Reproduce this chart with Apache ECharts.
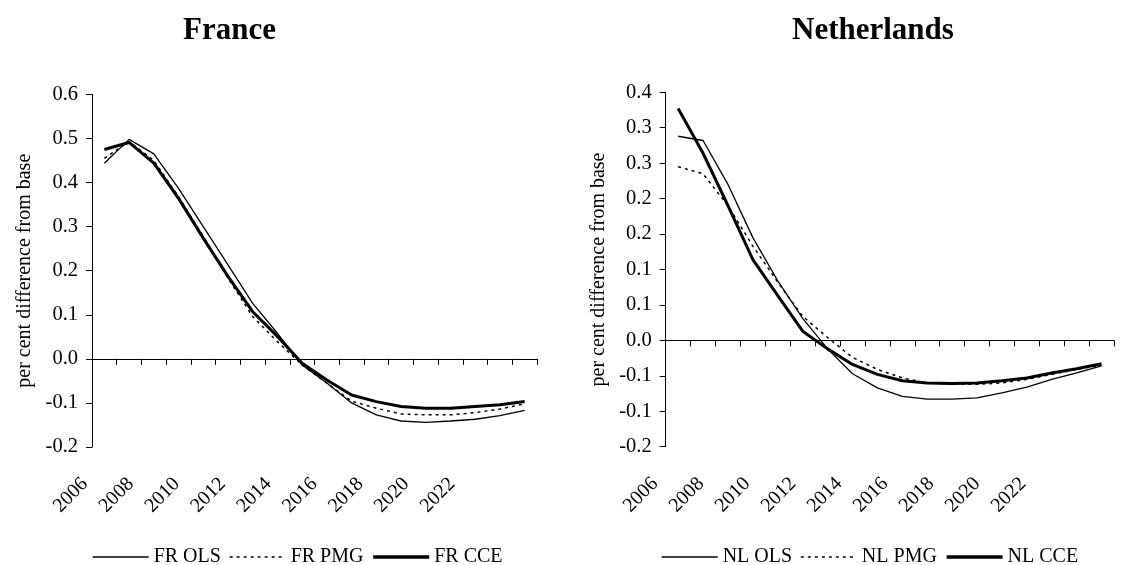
<!DOCTYPE html>
<html>
<head>
<meta charset="utf-8">
<script src="https://cdn.jsdelivr.net/npm/echarts@6/dist/echarts.min.js"></script>
<style>
  html, body { margin: 0; padding: 0; background: #fff; }
  #chart { width: 1127px; height: 565px; }
</style>
</head>
<body>
<div id="chart"></div>
<script>
var years = ['2006', '2007', '2008', '2009', '2010', '2011', '2012', '2013', '2014',
    '2015', '2016', '2017', '2018', '2019', '2020', '2021', '2022', '2023'];

var frOls = [0.444, 0.498, 0.465, 0.387, 0.300, 0.213, 0.126, 0.058, -0.014,
    -0.055, -0.100, -0.127, -0.141, -0.144, -0.141, -0.137, -0.129, -0.117];
var frPmg = [0.455, 0.493, 0.450, 0.368, 0.278, 0.183, 0.096, 0.039, -0.014,
    -0.055, -0.096, -0.112, -0.125, -0.127, -0.127, -0.122, -0.114, -0.102];
var frCce = [0.475, 0.491, 0.444, 0.364, 0.274, 0.187, 0.107, 0.051, -0.010,
    -0.048, -0.082, -0.097, -0.108, -0.112, -0.112, -0.108, -0.104, -0.097];

var nlOls = [0.288, 0.282, 0.220, 0.145, 0.084, 0.031, -0.012, -0.047, -0.067,
    -0.079, -0.083, -0.083, -0.081, -0.074, -0.066, -0.055, -0.046, -0.036];
var nlPmg = [0.245, 0.235, 0.190, 0.133, 0.082, 0.034, 0.004, -0.024, -0.041,
    -0.053, -0.060, -0.062, -0.062, -0.060, -0.055, -0.048, -0.041, -0.035];
var nlCce = [0.327, 0.264, 0.190, 0.114, 0.063, 0.013, -0.012, -0.034, -0.048,
    -0.057, -0.060, -0.061, -0.060, -0.057, -0.053, -0.046, -0.040, -0.033];

var font = 'Liberation Serif';

// excel shows the 0.05 steps rounded to one decimal
function roundLabel(v) {
    var r = Math.sign(v) * Math.round(Math.abs(v) * 10 + 1e-9) / 10;
    if (r === 0) r = 0;
    return r.toFixed(1);
}

function mainX(grid) {
    return {
        type: 'category', gridIndex: grid, data: years, boundaryGap: true,
        axisLine: { onZero: true, lineStyle: { color: '#000', width: 1 } },
        axisTick: { show: true, interval: 0, length: 6, lineStyle: { color: '#000' } },
        axisLabel: { show: false },
        splitLine: { show: false }
    };
}

function labelX(grid) {
    return {
        type: 'category', gridIndex: grid, data: years, boundaryGap: true,
        axisLine: { show: false },
        axisTick: { show: false },
        axisLabel: {
            interval: 1, rotate: 45, margin: 34,
            color: '#000', fontFamily: font, fontSize: 20
        }
    };
}

function mainY(grid, min, max, step) {
    return {
        type: 'value', gridIndex: grid, min: min, max: max, interval: step,
        name: 'per cent difference from base', nameLocation: 'middle', nameGap: 57,
        nameTextStyle: { color: '#000', fontFamily: font, fontSize: 20 },
        axisLine: { show: true, lineStyle: { color: '#000', width: 1 } },
        axisTick: { show: true, length: 6, lineStyle: { color: '#000' } },
        axisLabel: { color: '#000', fontFamily: font, fontSize: 20.5, margin: 14, formatter: roundLabel },
        splitLine: { show: false }
    };
}

function hiddenY(grid) {
    return { type: 'value', gridIndex: grid, show: false, min: 0, max: 1 };
}

function line(name, data, axis, width, dash) {
    return {
        name: name, type: 'line', xAxisIndex: axis, yAxisIndex: axis,
        data: data, symbol: 'none', smooth: false, color: '#000',
        lineStyle: { color: '#000', width: width, type: dash || 'solid' }
    };
}

function legendItem(name, width, dash) {
    return { name: name, lineStyle: { color: '#000', width: width, type: dash || 'solid' } };
}

function legend(names, left) {
    return {
        data: [
            legendItem(names[0], 1.3),
            legendItem(names[1], 1.5, [3, 4]),
            legendItem(names[2], 3.5)
        ],
        left: left, top: 547,
        itemWidth: 56, itemHeight: 14, itemGap: 8, padding: 0,
        itemStyle: { opacity: 0 },
        textStyle: { fontFamily: font, fontSize: 20, color: '#000' }
    };
}

var chart = echarts.init(document.getElementById('chart'));
var option = {
    backgroundColor: '#fff',
    animation: false,
    title: [
        { text: 'France', left: 183, top: 15, padding: 0,
          textStyle: { fontFamily: font, fontSize: 31, fontWeight: 'bold', color: '#000' } },
        { text: 'Netherlands', left: 792, top: 15, padding: 0,
          textStyle: { fontFamily: font, fontSize: 31, fontWeight: 'bold', color: '#000' } }
    ],
    legend: [
        legend(['FR OLS', 'FR PMG', 'FR CCE'], 92),
        legend(['NL OLS', 'NL PMG', 'NL CCE'], 661)
    ],
    grid: [
        { left: 92, right: 590, top: 94.4, bottom: 118 },
        { left: 73.5, width: 412.9, top: 94.4, bottom: 118 },
        { left: 665.7, right: 13, top: 92.3, bottom: 118.3 },
        { left: 643.5, width: 414, top: 92.3, bottom: 118.3 }
    ],
    xAxis: [mainX(0), labelX(1), mainX(2), labelX(3)],
    yAxis: [mainY(0, -0.2, 0.6, 0.1), hiddenY(1), mainY(2, -0.15, 0.35, 0.05), hiddenY(3)],
    series: [
        line('FR OLS', frOls, 0, 1.3),
        line('FR PMG', frPmg, 0, 1.5, [3, 4]),
        line('FR CCE', frCce, 0, 3),
        line('NL OLS', nlOls, 2, 1.3),
        line('NL PMG', nlPmg, 2, 1.5, [3, 4]),
        line('NL CCE', nlCce, 2, 3)
    ]
};
chart.setOption(option);
</script>
</body>
</html>
